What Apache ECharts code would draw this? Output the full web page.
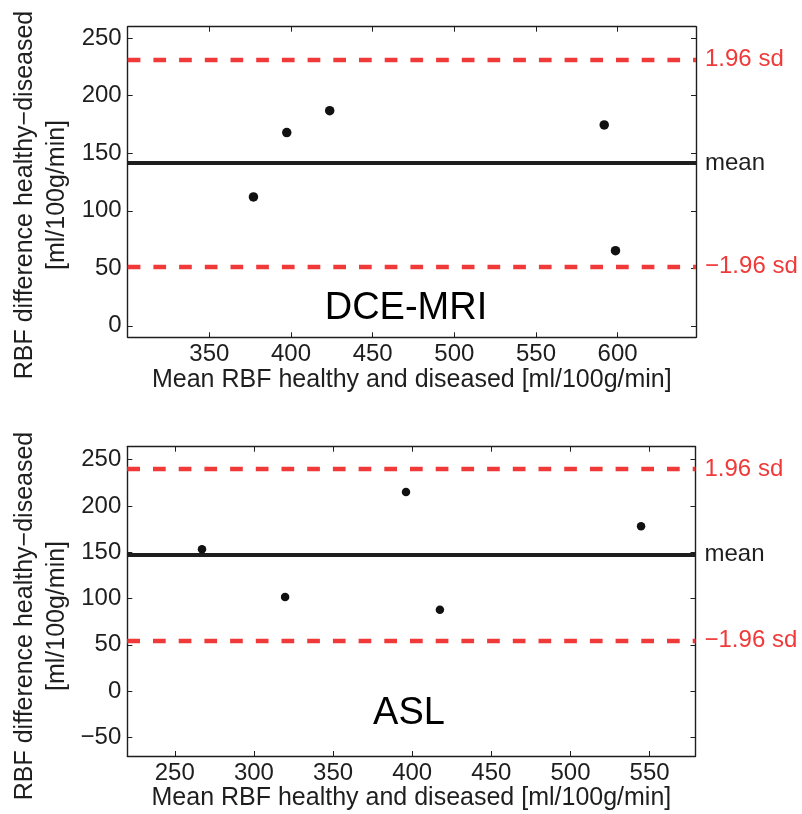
<!DOCTYPE html>
<html>
<head>
<meta charset="utf-8">
<title>Bland-Altman RBF</title>
<script src="https://cdn.jsdelivr.net/npm/echarts@6/dist/echarts.min.js"></script>
<style>
  html, body { margin: 0; padding: 0; background: #fff; }
  #chart { width: 802px; height: 814px; }
</style>
</head>
<body>
<div id="chart"></div>
<script>
// DCE-MRI: mean of healthy/diseased RBF vs. difference
const dceMeanRBF = [377, 397.4, 423.7, 591.8, 598.7];
const dceDiffRBF = [112, 168, 187, 174.6, 65.3];
const dceLimits = [231.7, 141.5, 51.3];   // +1.96 sd, mean, -1.96 sd

// ASL: mean of healthy/diseased RBF vs. difference
const aslMeanRBF = [267.2, 319.7, 396.1, 417.5, 544.6];
const aslDiffRBF = [153.2, 101.7, 215.2, 88, 178.1];
const aslLimits = [240, 147.4, 54.8];

const limitLabels = ['1.96 sd', 'mean', '\u22121.96 sd'];

// axis ranges and tick values
const dceXRange = [300, 648];
const dceYRange = [-10, 260];
const dceXTicks = [350, 400, 450, 500, 550, 600];
const dceYTicks = [0, 50, 100, 150, 200, 250];

const aslXRange = [220, 579];
const aslYRange = [-70, 264];
const aslXTicks = [250, 300, 350, 400, 450, 500, 550];
const aslYTicks = [-50, 0, 50, 100, 150, 200, 250];

const panelNames = ['DCE-MRI', 'ASL'];
const xTitle = 'Mean RBF healthy and diseased [ml/100g/min]';
const yTitle = 'RBF difference healthy\u2212diseased\n[ml/100g/min]';

const FONT = '"Liberation Sans", Arial, Helvetica, sans-serif';
const INK = '#1e1e1e';
const RED = '#f03a3a';

const chart = echarts.init(document.getElementById('chart'), null, { renderer: 'canvas' });

const grids = [
  { left: 127.7, top: 26.7, width: 568.3, height: 310.6 },
  { left: 127.3, top: 446.7, width: 568.2, height: 309.3 }
];

// numbers printed with a typographic minus
const tickText = v => String(v).replace('-', '\u2212');

function lineOf() {
  return { show: true, onZero: false, lineStyle: { color: INK, width: 1.4 } };
}

function xAxes(gridIndex, range, ticks) {
  return [
    {
      type: 'value', gridIndex, position: 'bottom', min: range[0], max: range[1],
      axisLine: lineOf(),
      axisTick: { show: true, inside: true, length: 5, customValues: ticks, lineStyle: { color: INK, width: 1 } },
      axisLabel: { show: true, customValues: ticks, margin: 5, color: INK, fontSize: 24, fontFamily: FONT, formatter: tickText },
      splitLine: { show: false },
      name: xTitle, nameLocation: 'middle', nameGap: 29,
      nameTextStyle: { color: INK, fontSize: 25, fontFamily: FONT }
    },
    {
      type: 'value', gridIndex, position: 'top', min: range[0], max: range[1],
      axisLine: lineOf(),
      axisTick: { show: true, inside: true, length: 5, customValues: ticks, lineStyle: { color: INK, width: 1 } },
      axisLabel: { show: false },
      splitLine: { show: false }
    }
  ];
}

function yAxes(gridIndex, range, ticks) {
  return [
    {
      type: 'value', gridIndex, position: 'left', min: range[0], max: range[1],
      axisLine: lineOf(),
      axisTick: { show: true, inside: true, length: 5, customValues: ticks, lineStyle: { color: INK, width: 1 } },
      axisLabel: { show: true, customValues: ticks, margin: 6, color: INK, fontSize: 24, fontFamily: FONT, formatter: tickText },
      splitLine: { show: false }
    },
    {
      type: 'value', gridIndex, position: 'right', min: range[0], max: range[1],
      axisLine: lineOf(),
      axisTick: { show: true, inside: true, length: 5, customValues: ticks, lineStyle: { color: INK, width: 1 } },
      axisLabel: { show: false },
      splitLine: { show: false }
    }
  ];
}

function limitLines(limits) {
  return limits.map((v, i) => {
    const isMean = i === 1;
    return {
      yAxis: v,
      lineStyle: isMean
        ? { color: INK, width: 4, type: 'solid', opacity: 1 }
        : { color: RED, width: 4.3, type: [12.7, 13], opacity: 1 },
      label: {
        show: true, position: 'end', distance: 9,
        formatter: limitLabels[i],
        color: isMean ? INK : RED,
        fontSize: 24, fontFamily: FONT
      }
    };
  });
}

function scatterSeries(xIdx, yIdx, xs, ys, limits, size) {
  return {
    type: 'scatter', xAxisIndex: xIdx, yAxisIndex: yIdx,
    data: xs.map((x, i) => [x, ys[i]]),
    symbol: 'circle', symbolSize: size,
    itemStyle: { color: '#111', opacity: 1 },
    z: 5,
    markLine: {
      silent: true, symbol: ['none', 'none'], animation: false,
      data: limitLines(limits)
    }
  };
}

chart.setOption({
  animation: false,
  backgroundColor: '#fff',
  grid: grids,
  xAxis: [...xAxes(0, dceXRange, dceXTicks), ...xAxes(1, aslXRange, aslXTicks)],
  yAxis: [...yAxes(0, dceYRange, dceYTicks), ...yAxes(1, aslYRange, aslYTicks)],
  series: [
    scatterSeries(0, 0, dceMeanRBF, dceDiffRBF, dceLimits, 9.5),
    scatterSeries(2, 2, aslMeanRBF, aslDiffRBF, aslLimits, 8.5)
  ],
  graphic: [
    { type: 'text', x: 406, y: 309, style: { text: panelNames[0], fill: '#000', font: '38px ' + FONT, textAlign: 'center', textVerticalAlign: 'middle' } },
    { type: 'text', x: 409, y: 714, style: { text: panelNames[1], fill: '#000', font: '38px ' + FONT, textAlign: 'center', textVerticalAlign: 'middle' } },
    { type: 'text', x: 41, y: 195, rotation: Math.PI / 2, style: { text: yTitle, fill: INK, font: '25px ' + FONT, textAlign: 'center', textVerticalAlign: 'middle', lineHeight: 32 } },
    { type: 'text', x: 41, y: 616, rotation: Math.PI / 2, style: { text: yTitle, fill: INK, font: '25px ' + FONT, textAlign: 'center', textVerticalAlign: 'middle', lineHeight: 32 } }
  ]
});
</script>
</body>
</html>
